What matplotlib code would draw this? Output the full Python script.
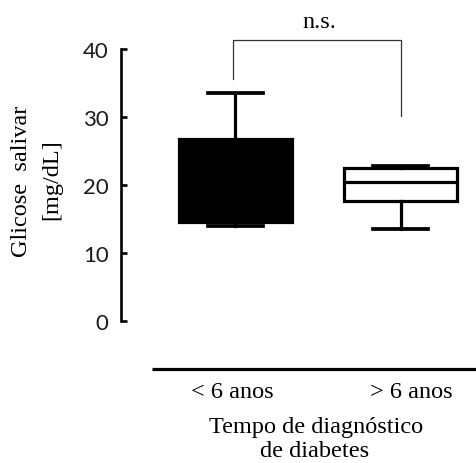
import matplotlib
matplotlib.use('Agg')
import matplotlib.pyplot as plt

# ---- data ----
groups = ['< 6 anos', '> 6 anos']
whisker_low = [14.0, 13.5]
q1 = [14.65, 17.6]
median = [20.5, 20.5]
q3 = [26.8, 22.5]
whisker_high = [33.55, 22.75]
box_fill = ['black', 'white']
yticks = [0, 10, 20, 30, 40]
bracket_top = 41.3
bracket_left_end = 35.6
bracket_right_end = 30.2
sig_label = 'n.s.'
xlabel_lines = ['Tempo de diagnóstico', 'de diabetes']
ylabel_lines = ['Glicose  salivar', '[mg/dL]']

# ---- layout helpers (pixels) ----
W, H = 477, 464
fig = plt.figure(figsize=(W / 100, H / 100), dpi=100)
def fx(px): return px / W
def fy(py): return 1 - py / H

ax = fig.add_axes([fx(121), fy(380), fx(477) - fx(121), fy(10) - fy(380)])
ppu = (322.3 - 50) / 40.0
ax.set_ylim(-(380 - 322.3) / ppu, 40 + (50 - 10) / ppu)
xppu = 165.0
ax.set_xlim(1 - (235.5 - 121) / xppu, 2 + (477 - 400.5) / xppu)

positions = list(range(1, len(groups) + 1))
stats = []
for i in range(len(groups)):
    stats.append(dict(med=median[i], q1=q1[i], q3=q3[i],
                      whislo=whisker_low[i], whishi=whisker_high[i], fliers=[]))

res = ax.bxp(stats, positions=positions, widths=113 / xppu, capwidths=55 / xppu,
             patch_artist=True, showfliers=False,
             boxprops=dict(linewidth=2.3, edgecolor='black'),
             whiskerprops=dict(linewidth=2.3, color='black'),
             capprops=dict(linewidth=2.7, color='black'),
             medianprops=dict(linewidth=2.3, color='black'))
for patch, fc in zip(res['boxes'], box_fill):
    patch.set_facecolor(fc)

# spines
for s in ['top', 'right', 'bottom']:
    ax.spines[s].set_visible(False)
ax.spines['left'].set_bounds(0, 40)
ax.spines['left'].set_linewidth(1.9)
ax.set_yticks(yticks)
ax.set_yticklabels([str(t) for t in yticks], fontfamily='Lato', fontsize=16, color='#1a1a1a')
ax.tick_params(axis='y', direction='in', length=4.5, width=1.9, pad=9)
ax.set_xticks([])

# bottom baseline
yb = -(370 - 322.3) / ppu
x0 = 1 - (235.5 - 152) / xppu
ax.plot([x0, ax.get_xlim()[1]], [yb, yb], color='black', lw=2.3, clip_on=False,
        solid_capstyle='butt')

serif = 'Liberation Serif'
offsets = [-3.5, 10.5]
for pos, g, off in zip(positions, groups, offsets):
    ax.annotate(g, xy=(pos, yb), xycoords='data', xytext=(off * 0.72, -23 * 0.72),
                textcoords='offset points', ha='center', va='center',
                fontfamily=serif, fontsize=17.5)

# significance bracket
ax.plot([positions[0] - 0.015, positions[0] - 0.015, positions[1] + 0.003, positions[1] + 0.003],
        [bracket_left_end, bracket_top, bracket_top, bracket_right_end],
        color='#333333', lw=0.9, clip_on=False)
fig.text(fx(319), fy(22), sig_label, ha='center', va='center', fontfamily=serif, fontsize=17.5)

# axis labels
fig.text(fx(316), fy(428), xlabel_lines[0], ha='center', va='center', fontfamily=serif, fontsize=17.5)
fig.text(fx(315), fy(452), xlabel_lines[1], ha='center', va='center', fontfamily=serif, fontsize=17.5)
fig.text(fx(22), fy(181), ylabel_lines[0], ha='center', va='center', rotation=90,
         fontfamily=serif, fontsize=17.5)
fig.text(fx(52), fy(180), ylabel_lines[1], ha='center', va='center', rotation=90,
         fontfamily=serif, fontsize=17.5)

fig.savefig('out.png', dpi=100)
